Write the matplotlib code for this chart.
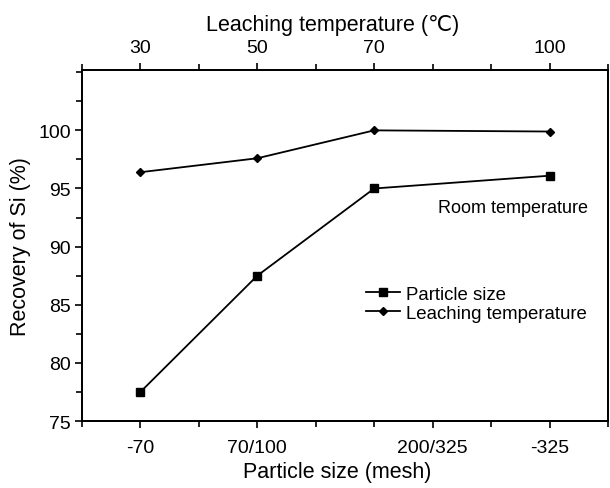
import matplotlib
matplotlib.use("Agg")
import matplotlib.pyplot as plt
from matplotlib.ticker import MultipleLocator

plt.rcParams['font.family'] = ['Liberation Sans', 'DejaVu Sans']

# positions along the shared x axis (units of one tick)
positions = [1, 3, 5, 8]
particle_recovery = [77.5, 87.5, 95.0, 96.1]
leaching_recovery = [96.4, 97.6, 100.0, 99.9]

mesh_ticks = [1, 3, 6, 8]
mesh_labels = ['-70', '70/100', '200/325', '-325']
temp_ticks = [1, 3, 5, 8]
temp_labels = ['30', '50', '70', '100']


def main():
    fig = plt.figure(figsize=(6.1, 4.89), dpi=100)
    ax = fig.add_axes([0.1344, 0.137, 0.8623, 0.718])

    ax.plot(positions, particle_recovery, color='black', lw=1.3,
            marker='s', ms=5.5, label='Particle size')
    ax.plot(positions, leaching_recovery, color='black', lw=1.3,
            marker='D', ms=4.5, label='Leaching temperature')

    ax.set_xlim(0, 9)
    ax.set_ylim(75, 105.2)
    ax.set_xticks(range(10), minor=True)
    ax.set_xticks(mesh_ticks)
    ax.set_xticklabels(mesh_labels)
    ax.yaxis.set_major_locator(MultipleLocator(5))
    ax.yaxis.set_minor_locator(MultipleLocator(2.5))
    ax.set_yticks([75, 80, 85, 90, 95, 100])

    ax.tick_params(axis='both', which='major', direction='out', length=5,
                   width=1.2, labelsize=14, pad=3)
    ax.tick_params(axis='x', which='major', pad=8)
    ax.tick_params(axis='both', which='minor', direction='out', length=4,
                   width=1.2)
    ax.set_xlabel('Particle size (mesh)', fontsize=15.5, labelpad=2)
    ax.set_ylabel('Recovery of Si (%)', fontsize=15.5, labelpad=5)
    ax.xaxis.set_label_coords(0.485, -0.115)

    # top axis for leaching temperature
    top = ax.twiny()
    top.set_xlim(ax.get_xlim())
    top.set_xticks(range(10), minor=True)
    top.set_xticks(temp_ticks)
    top.set_xticklabels(temp_labels)
    top.tick_params(axis='x', which='major', direction='out', length=5,
                    width=1.2, labelsize=14, pad=5)
    top.tick_params(axis='x', which='minor', direction='out', length=4,
                    width=1.2)
    top.set_xlabel('Leaching temperature (℃)', fontsize=15.5)
    top.xaxis.set_label_coords(0.477, 1.115)

    for a in (ax, top):
        for s in a.spines.values():
            s.set_linewidth(1.3)

    ax.text(8.65, 93.4, 'Room temperature', fontsize=13, ha='right', va='center')

    ax.legend(loc='lower left', bbox_to_anchor=(0.523, 0.256), frameon=False,
              fontsize=13.4, handlelength=1.8, handletextpad=0.35,
              labelspacing=0.1, borderpad=0)

    fig.savefig('out.png', dpi=100)


if __name__ == "__main__":
    main()
